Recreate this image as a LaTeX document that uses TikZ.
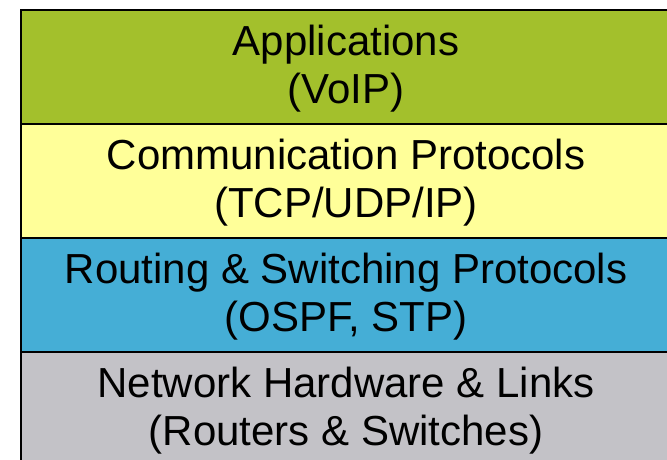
\documentclass[tikz,border=0pt]{standalone}
\usepackage{fontspec}
\setmainfont{Liberation Sans}
\definecolor{appgreen}{HTML}{A3C02C}
\definecolor{protoyellow}{HTML}{FFFF99}
\definecolor{routeblue}{HTML}{45AED6}
\definecolor{hwgray}{HTML}{C3C2C7}
\begin{document}
\begin{tikzpicture}[x=1pt,y=-1pt,
  layerbox/.style={draw=black, line width=2pt, minimum width=651pt, minimum height=114pt, inner sep=0pt, outer sep=0pt},
  layertext/.style={align=center, inner sep=0pt, font=\fontsize{42}{47.5}\selectfont, text=black}]
\useasboundingbox (0,0) rectangle (667,460);
\clip (0,0) rectangle (667,460);
\node[layerbox, fill=hwgray] (hw) at (346.5,409) {};
\node[layerbox, fill=routeblue] (route) at (346.5,295) {};
\node[layerbox, fill=protoyellow] (proto) at (346.5,181) {};
\node[layerbox, fill=appgreen] (app) at (346.5,67) {};
\node[layertext] (appt) at ([xshift=-0.5pt,yshift=-1.5pt]app.center) {Applications\\(VoIP)};
\node[layertext] (protot) at ([xshift=-0.5pt,yshift=-1.5pt]proto.center) {Communication Protocols\\(TCP/UDP/IP)};
\node[layertext] (routet) at ([xshift=-0.5pt,yshift=-1.5pt]route.center) {Routing \& Switching Protocols\\(OSPF, STP)};
\node[layertext] (hwt) at ([xshift=-0.5pt,yshift=-1.5pt]hw.center) {Network Hardware \& Links\\(Routers \& Switches)};
\end{tikzpicture}
\end{document}
